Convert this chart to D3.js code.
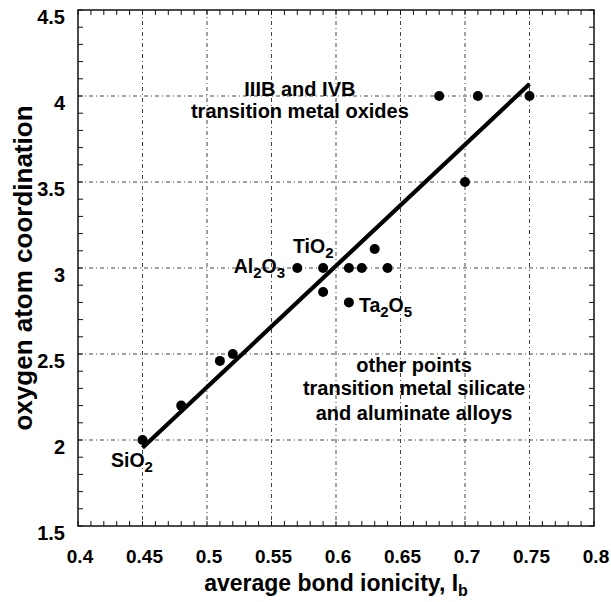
<!DOCTYPE html>
<html>
<head>
<meta charset="utf-8">
<script src="https://cdn.jsdelivr.net/npm/d3@7"></script>
<style>
	body { margin: 0; background: #fff; }
	svg { display: block; font-family: "Liberation Sans", Arial, sans-serif; font-weight: bold; }
</style>
</head>
<body>
<svg id="chart" width="611" height="602"></svg>
<script>
// data
var ionicity = [0.45, 0.48, 0.51, 0.52, 0.57, 0.59, 0.59, 0.61, 0.62, 0.63, 0.64, 0.61, 0.68, 0.71, 0.75, 0.70];
var coordination = [2.0, 2.2, 2.46, 2.5, 3.0, 3.0, 2.86, 3.0, 3.0, 3.11, 3.0, 2.8, 4.0, 4.0, 4.0, 3.5];

var fitX = [0.45, 0.75];
var fitY = [1.955, 4.07];

var xTicks = [0.4, 0.45, 0.5, 0.55, 0.6, 0.65, 0.7, 0.75, 0.8];
var xTickLabels = ['0.4', '0.45', '0.5', '0.55', '0.6', '0.65', '0.7', '0.75', '0.8'];
var yTicks = [1.5, 2, 2.5, 3, 3.5, 4, 4.5];
var yTickLabels = ['1.5', '2', '2.5', '3', '3.5', '4', '4.5'];

// compound labels: [main, sub, main, sub], anchored in data units
var compounds = [
	{ parts: ['SiO', '2'], x: 0.4256, y: 1.843, anchor: 'start' },
	{ parts: ['Al', '2', 'O', '3'], x: 0.5605, y: 2.971, anchor: 'end' },
	{ parts: ['TiO', '2'], x: 0.5667, y: 3.087, anchor: 'start' },
	{ parts: ['Ta', '2', 'O', '5'], x: 0.6178, y: 2.744, anchor: 'start' }
];

var notes = [
	{ text: 'IIIB and IVB', x: 0.572, y: 4.0 },
	{ text: 'transition metal oxides', x: 0.572, y: 3.872 },
	{ text: 'other points', x: 0.6605, y: 2.395 },
	{ text: 'transition metal silicate', x: 0.6605, y: 2.262 },
	{ text: 'and aluminate alloys', x: 0.6605, y: 2.116 }
];

var margin = {left: 78, top: 10, right: 17, bottom: 76};
var svg = d3.select('#chart');
var W = 611 - margin.left - margin.right;
var H = 602 - margin.top - margin.bottom;

var x = d3.scaleLinear().domain([0.4, 0.8]).range([0, W]);
var y = d3.scaleLinear().domain([1.5, 4.5]).range([H, 0]);

var g = svg.append('g').attr('transform', 'translate(' + margin.left + ',' + margin.top + ')');

// grid, dash-dot
var gridX = xTicks.slice(1, -1);
var gridY = yTicks.slice(1, -1);
g.selectAll('line.gx').data(gridX).enter().append('line')
	.attr('x1', function (d) { return x(d); }).attr('x2', function (d) { return x(d); })
	.attr('y1', 0).attr('y2', H)
	.attr('stroke', '#444').attr('stroke-width', 1).attr('stroke-dasharray', '4,3,1,3');
g.selectAll('line.gy').data(gridY).enter().append('line')
	.attr('y1', function (d) { return y(d); }).attr('y2', function (d) { return y(d); })
	.attr('x1', 0).attr('x2', W)
	.attr('stroke', '#444').attr('stroke-width', 1).attr('stroke-dasharray', '4,3,1,3');

// ticks on all four sides, pointing inward
var xMinor = d3.range(40, 81).map(function (d) { return d / 100; });
var yMinor = d3.range(15, 46).map(function (d) { return d / 10; });
var tickLen = 5;
g.selectAll('line.tb').data(xMinor).enter().append('line')
	.attr('x1', function (d) { return x(d); }).attr('x2', function (d) { return x(d); })
	.attr('y1', H).attr('y2', H - tickLen).attr('stroke', '#111');
g.selectAll('line.tt').data(xMinor).enter().append('line')
	.attr('x1', function (d) { return x(d); }).attr('x2', function (d) { return x(d); })
	.attr('y1', 0).attr('y2', tickLen).attr('stroke', '#111');
g.selectAll('line.tl').data(yMinor).enter().append('line')
	.attr('y1', function (d) { return y(d); }).attr('y2', function (d) { return y(d); })
	.attr('x1', 0).attr('x2', tickLen).attr('stroke', '#111');
g.selectAll('line.tr').data(yMinor).enter().append('line')
	.attr('y1', function (d) { return y(d); }).attr('y2', function (d) { return y(d); })
	.attr('x1', W).attr('x2', W - tickLen).attr('stroke', '#111');

// frame
g.append('rect').attr('width', W).attr('height', H)
	.attr('fill', 'none').attr('stroke', '#111').attr('stroke-width', 1.5);

// tick labels
g.selectAll('text.xl').data(xTicks).enter().append('text')
	.attr('x', function (d) { return x(d) + 2; }).attr('y', H + 37)
	.attr('text-anchor', 'middle').attr('font-size', 19)
	.text(function (d, i) { return xTickLabels[i]; });
g.selectAll('text.yl').data(yTicks).enter().append('text')
	.attr('x', -13).attr('y', function (d) { return y(d) + 14; })
	.attr('text-anchor', 'end').attr('font-size', 20)
	.text(function (d, i) { return yTickLabels[i]; });

// fit line
g.append('line')
	.attr('x1', x(fitX[0])).attr('y1', y(fitY[0]))
	.attr('x2', x(fitX[1])).attr('y2', y(fitY[1]))
	.attr('stroke', '#000').attr('stroke-width', 4.2);

// points
g.selectAll('circle').data(ionicity).enter().append('circle')
	.attr('cx', function (d) { return x(d); })
	.attr('cy', function (d, i) { return y(coordination[i]); })
	.attr('r', 5).attr('fill', '#000');

// compound labels with subscripts
compounds.forEach(function (c) {
	var t = g.append('text')
		.attr('x', x(c.x)).attr('y', y(c.y))
		.attr('text-anchor', c.anchor).attr('font-size', 19.5);
	c.parts.forEach(function (p, i) {
		var sub = i % 2 === 1;
		t.append('tspan')
			.attr('font-size', sub ? 15 : 19.5)
			.attr('dy', sub ? 5 : (i > 0 ? -5 : 0))
			.text(p);
	});
});

// annotation text
g.selectAll('text.note').data(notes).enter().append('text')
	.attr('x', function (d) { return x(d.x); })
	.attr('y', function (d) { return y(d.y); })
	.attr('text-anchor', 'middle').attr('font-size', 20)
	.text(function (d) { return d.text; });

// axis titles
var xt = svg.append('text')
	.attr('x', 336).attr('y', 591)
	.attr('text-anchor', 'middle').attr('font-size', 23);
xt.append('tspan').text('average bond ionicity, I');
xt.append('tspan').attr('font-size', 16).attr('dy', 5).text('b');

svg.append('text')
	.attr('transform', 'translate(32,' + (margin.top + H / 2) + ') rotate(-90)')
	.attr('text-anchor', 'middle').attr('font-size', 26)
	.text('oxygen atom coordination');
</script>
</body>
</html>
